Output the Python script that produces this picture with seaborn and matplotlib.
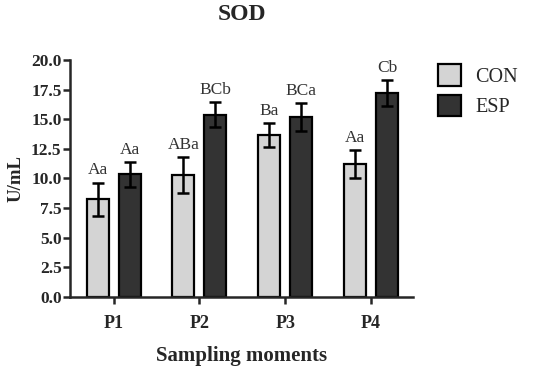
import pandas as pd
import matplotlib
matplotlib.use("Agg")
import matplotlib.pyplot as plt
import seaborn as sns

# data
moments = ["P1", "P2", "P3", "P4"]
con_mean = [8.25, 10.3, 13.7, 11.2]
con_err = [1.4, 1.5, 1.0, 1.2]
esp_mean = [10.35, 15.4, 15.2, 17.2]
esp_err = [1.05, 1.05, 1.15, 1.1]
con_letters = ["Aa", "ABa", "Ba", "Aa"]
esp_letters = ["Aa", "BCb", "BCa", "Cb"]
groups = ["CON", "ESP"]

sns.set_style("ticks")
plt.rcParams["font.family"] = ["Liberation Serif", "DejaVu Serif"]

df = pd.DataFrame({
    "moment": moments * 2,
    "group": ["CON"] * 4 + ["ESP"] * 4,
    "value": con_mean + esp_mean,
    "err": con_err + esp_err,
    "letter": con_letters + esp_letters,
})

fig = plt.figure(figsize=(5.5, 3.68), dpi=100)
ax = fig.add_axes([0.127, 0.194, 0.624, 0.642])

sns.barplot(data=df, x="moment", y="value", hue="group", order=moments,
            hue_order=groups, palette=["#d4d4d4", "#333333"], width=0.745,
            gap=0.31, edgecolor="black", linewidth=1.6, errorbar=None, ax=ax)

# error bars + letters, using bar positions from seaborn
bars = [p for p in ax.patches if p.get_height() > 0]
for i, g in enumerate(groups):
    sub = df[df.group == g].set_index("moment").loc[moments]
    for j, m in enumerate(moments):
        b = bars[i * 4 + j]
        xc = b.get_x() + b.get_width() / 2
        v, e = sub.loc[m, "value"], sub.loc[m, "err"]
        ax.errorbar(xc, v, yerr=e, fmt="none", ecolor="black", elinewidth=1.8,
                    capsize=4.5, capthick=1.8, zorder=5)
        ax.text(xc, v + e + 0.35, sub.loc[m, "letter"], ha="center", va="bottom",
                fontsize=12.5, color="#333333", clip_on=False)

ax.set_ylim(0, 20)
ax.set_xlim(-0.51, 3.49)
ax.set_yticks([0, 2.5, 5, 7.5, 10, 12.5, 15, 17.5, 20])
ax.set_yticklabels([f"{t:.1f}" for t in ax.get_yticks()], fontweight="bold", fontsize=12.5)
ax.set_xticks(range(4))
ax.set_xticklabels(moments, fontweight="bold", fontsize=13)
ax.tick_params(axis="both", width=1.8, length=5, pad=8)
ax.tick_params(axis="y", pad=1)
for s in ["left", "bottom"]:
    ax.spines[s].set_linewidth(1.8)
sns.despine(ax=ax)

ax.set_xlabel("Sampling moments", fontweight="bold", fontsize=15, labelpad=10)
ax.set_ylabel("U/mL", fontweight="bold", fontsize=13.5, labelpad=5)
ax.set_title("SOD", fontweight="bold", fontsize=17, pad=29)

ax.legend(loc="upper left", bbox_to_anchor=(1.02, 1.06), frameon=False,
          fontsize=14.5, handlelength=1.15, handleheight=1.25, labelspacing=0.4,
          handletextpad=0.7, title=None)

fig.savefig("out.png", dpi=100)
